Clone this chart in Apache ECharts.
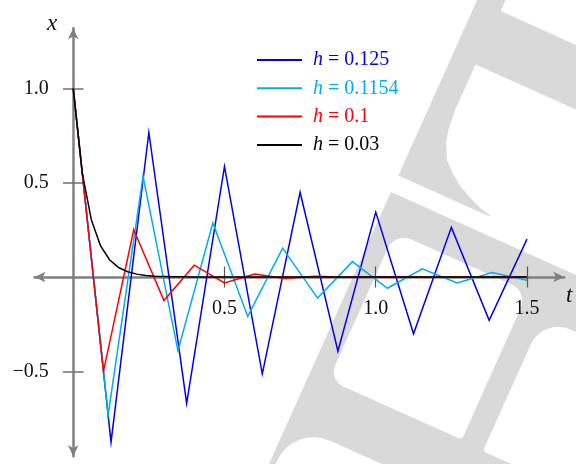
<!DOCTYPE html>
<html><head><meta charset="utf-8">
<script src="https://cdn.jsdelivr.net/npm/echarts@6/dist/echarts.min.js"></script>
<style>html,body{margin:0;padding:0;background:#fff}#c{width:576px;height:464px}</style>
</head><body><div id="c"></div>
<script>
// ---- data ----
const seriesNames = ['h = 0.125', 'h = 0.1154', 'h = 0.1', 'h = 0.03'];
const seriesColors = ['#0000f0', '#00aeef', '#ff0000', '#000000'];

const t125 = [0, 0.125, 0.25, 0.375, 0.5, 0.625, 0.75, 0.875, 1, 1.125, 1.25, 1.375, 1.5];
const x125 = [1, -0.875, 0.766, -0.670, 0.586, -0.513, 0.449, -0.393, 0.344, -0.301, 0.263, -0.230, 0.201];

const t1154 = [0, 0.1154, 0.2308, 0.3462, 0.4615, 0.5769, 0.6923, 0.8077, 0.9231, 1.0385, 1.1538, 1.2692, 1.3846, 1.5];
const x1154 = [1, -0.731, 0.534, -0.391, 0.286, -0.209, 0.153, -0.112, 0.0815, -0.0596, 0.0436, -0.0318, 0.0233, -0.017];

const t1 = [0, 0.1, 0.2, 0.3, 0.4, 0.5, 0.6, 0.7, 0.8, 0.9, 1.0, 1.1, 1.2, 1.3, 1.4, 1.5];
const x1 = [1, -0.5, 0.25, -0.125, 0.0625, -0.0313, 0.0156, -0.0078, 0.0039, -0.002, 0.001, -0.0005, 0.0002, -0.0001, 0.0001, 0];

const t03 = [0, 0.03, 0.06, 0.09, 0.12, 0.15, 0.18, 0.21, 0.24, 0.27, 0.3, 0.33, 0.36, 0.39, 0.42, 0.45, 0.48,
  0.51, 0.54, 0.57, 0.6, 0.63, 0.66, 0.69, 0.72, 0.75, 0.78, 0.81, 0.84, 0.87, 0.9, 0.93, 0.96, 0.99,
  1.02, 1.05, 1.08, 1.11, 1.14, 1.17, 1.2, 1.23, 1.26, 1.29, 1.32, 1.35, 1.38, 1.41, 1.44, 1.47, 1.5];
const x03 = [1, 0.55, 0.3025, 0.1664, 0.0915, 0.0503, 0.0277, 0.0152, 0.0084, 0.0046, 0.0025, 0.0014, 0.0008, 0.0004, 0.0002, 0.0001,
  0, 0, 0, 0, 0, 0, 0, 0, 0, 0, 0, 0, 0, 0, 0, 0, 0, 0, 0, 0, 0, 0, 0, 0, 0, 0, 0, 0, 0, 0, 0, 0, 0, 0, 0];

const xTickValues = [0.5, 1.0, 1.5];
const xTickLabels = ['0.5', '1.0', '1.5'];
const yTickValues = [-0.5, 0.5, 1.0];
const yTickLabels = ['\u22120.5', '0.5', '1.0'];

// ---- build ----
const seriesT = [t125, t1154, t1, t03];
const seriesX = [x125, x1154, x1, x03];
const pairs = (ts, xs) => ts.map((t, i) => [t, xs[i]]);

const FONT = 'Liberation Serif';
const FS = 20;
const AX = '#808080';

// watermark (decorative background), local rotated frame
function P(a, b) { return [391 + 0.912 * a - 0.409 * b, 192 + 0.409 * a + 0.912 * b]; }
function rr(a0, a1, b0, b1, rs) {
  const pts = [];
  const corners = [
    [a0 + rs[0], b0 + rs[0], rs[0], Math.PI],
    [a1 - rs[1], b0 + rs[1], rs[1], 1.5 * Math.PI],
    [a1 - rs[2], b1 - rs[2], rs[2], 0],
    [a0 + rs[3], b1 - rs[3], rs[3], 0.5 * Math.PI]
  ];
  corners.forEach(([ca, cb, r, s]) => {
    for (let k = 0; k <= 8; k++) {
      const th = s + k / 8 * Math.PI / 2;
      pts.push(P(ca + r * Math.cos(th), cb + r * Math.sin(th)));
    }
  });
  return pts;
}
const GRAY = '#d9d9d9';
const shapeA = [[0,-400],[26,-400],[26,-210],[700,-210],[700,-151],[25,-151],[25,-100],[27,-80],[30,-68],[38,-52],[49,-42],[62,-33],[75,-27],[88,-22],[100,-19],[100,-18],[0,-18]].map(p => P(p[0], p[1]));
const wm = [
  {type: 'polygon', shape: {points: shapeA}, style: {fill: GRAY}},
  {type: 'polygon', shape: {points: [P(0,0), P(900,0), P(900,900), P(0,900)]}, style: {fill: GRAY}},
  {type: 'polygon', shape: {points: rr(20, 166, 35, 197, [18, 18, 4, 16])}, style: {fill: '#fff'}},
  {type: 'polygon', shape: {points: rr(190, 900, 52, 199, [30, 0, 0, 3])}, style: {fill: '#fff'}},
  {type: 'polygon', shape: {points: rr(6, 900, 252, 900, [40, 0, 0, 0])}, style: {fill: '#fff'}}
].map(e => Object.assign(e, {z: -50, silent: true}));

const axisNames = [
  {type: 'text', z: 100, silent: true, style: {text: 'x', x: 52, y: 23.5, align: 'center', verticalAlign: 'middle',
    font: 'italic 23px Liberation Serif', fill: '#111'}},
  {type: 'text', z: 100, silent: true, style: {text: 't', x: 566, y: 296, align: 'left', verticalAlign: 'middle',
    font: 'italic 23px Liberation Serif', fill: '#111'}}
];

const XMIN = -0.128, XMAX = 1.623, YMIN = -0.9497, YMAX = 1.3185;

const rich = {};
seriesColors.forEach((c, k) => {
  rich['i' + k] = {color: c, fontFamily: FONT, fontSize: FS, fontStyle: 'italic', lineHeight: 20, padding: [0, 0, 0, 6]};
  rich['n' + k] = {color: c, fontFamily: FONT, fontSize: FS, lineHeight: 20};
});

const tickAxis = (dimPos, vals, len, col, w) => ({
  type: 'value', position: dimPos,
  axisLine: {show: false, onZero: true},
  axisTick: {show: true, customValues: vals, length: len, lineStyle: {color: col, width: w}},
  axisLabel: {show: false}, splitLine: {show: false}
});

const option = {
  animation: false,
  backgroundColor: '#ffffff',
  grid: {left: 34.5, right: 11.8, top: 28.2, bottom: 7.8, containLabel: false, outerBoundsMode: 'none'},
  legend: {
    orient: 'vertical', left: 257, top: 50, padding: 0,
    itemWidth: 45, itemHeight: 2, itemGap: 8.3, icon: 'rect',
    data: seriesNames,
    formatter: name => {
      const k = seriesNames.indexOf(name);
      return '{i' + k + '|h}{n' + k + '|' + name.slice(1) + '}';
    },
    textStyle: {fontFamily: FONT, fontSize: FS, rich: rich}
  },
  xAxis: [
    Object.assign(tickAxis('bottom', xTickValues, 10.5, '#555', 1.2), {min: XMIN, max: XMAX,
      axisLine: {show: true, onZero: true, lineStyle: {color: AX, width: 2.5}, symbol: ['arrow', 'arrow'], symbolSize: [8, 11]}}),
    Object.assign(tickAxis('top', xTickValues, 10.5, '#555', 1.2), {min: XMIN, max: XMAX})
  ],
  yAxis: [
    Object.assign(tickAxis('left', yTickValues, 10.3, '#707070', 1.5), {min: YMIN, max: YMAX,
      axisLine: {show: true, onZero: true, lineStyle: {color: AX, width: 2.5}, symbol: ['arrow', 'arrow'], symbolSize: [8, 11]}}),
    Object.assign(tickAxis('right', yTickValues, 10.3, '#707070', 1.5), {min: YMIN, max: YMAX})
  ],
  graphic: {elements: wm.concat(axisNames)},
  series: seriesNames.map((n, k) => ({
    name: n, type: 'line', xAxisIndex: 0, yAxisIndex: 0,
    data: pairs(seriesT[k], seriesX[k]),
    showSymbol: false, symbol: 'none',
    color: seriesColors[k],
    lineStyle: {color: seriesColors[k], width: 1.5, join: 'miter', miterLimit: 20},
    z: 3 + k
  }))
};

const chart = echarts.init(document.getElementById('c'), null, {renderer: 'canvas'});
chart.setOption(option);

// tick labels placed next to the zero-crossing axes, using the chart's own scales
const x0 = chart.convertToPixel({xAxisIndex: 0}, 0);
const y0 = chart.convertToPixel({yAxisIndex: 0}, 0);
const tickTexts = [];
xTickValues.forEach((v, i) => {
  tickTexts.push({type: 'text', z: 100, silent: true, style: {
    text: xTickLabels[i], x: chart.convertToPixel({xAxisIndex: 0}, v), y: y0 + 21.7,
    align: 'center', verticalAlign: 'top', font: FS + 'px ' + FONT, fill: '#111'}});
});
yTickValues.forEach((v, i) => {
  tickTexts.push({type: 'text', z: 100, silent: true, style: {
    text: yTickLabels[i], x: x0 - 24.5, y: chart.convertToPixel({yAxisIndex: 0}, v),
    align: 'right', verticalAlign: 'middle', font: FS + 'px ' + FONT, fill: '#111'}});
});
chart.setOption({graphic: {elements: wm.concat(axisNames, tickTexts)}});
</script>
</body></html>
